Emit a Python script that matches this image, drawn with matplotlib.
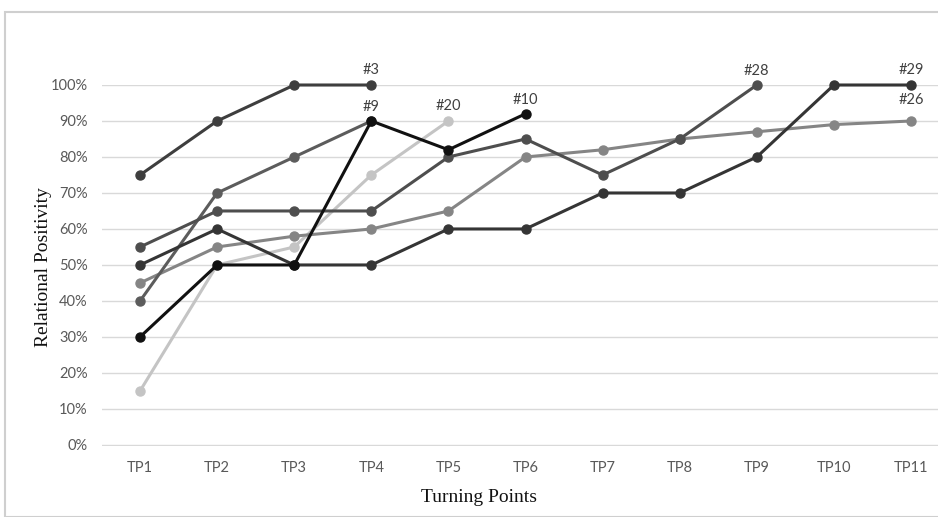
import matplotlib.pyplot as plt
from matplotlib.patches import Rectangle

plt.rcParams['font.family'] = ['Lato', 'DejaVu Sans']

tps = ['TP1', 'TP2', 'TP3', 'TP4', 'TP5', 'TP6', 'TP7', 'TP8', 'TP9', 'TP10', 'TP11']

# relational positivity per case (%)
p3 = [75, 90, 100, 100]
p9 = [40, 70, 80, 90]
p10 = [30, 50, 50, 90, 82, 92]
p20 = [15, 50, 55, 75, 90]
p26 = [45, 55, 58, 60, 65, 80, 82, 85, 87, 89, 90]
p28 = [55, 65, 65, 65, 80, 85, 75, 85, 100]
p29 = [50, 60, 50, 50, 60, 60, 70, 70, 80, 100, 100]

series = [
    ('#20', p20, '#c4c4c4', (0, 6)),
    ('#26', p26, '#858585', (0, 10)),
    ('#9', p9, '#5c5c5c', (0, 5)),
    ('#28', p28, '#4e4e4e', (0, 5)),
    ('#29', p29, '#353535', (0, 6)),
    ('#3', p3, '#3e3e3e', (0, 6)),
    ('#10', p10, '#111111', (0, 5)),
]

fig = plt.figure(figsize=(9.38, 5.17), dpi=100)
W, H = 938, 517
ax = fig.add_axes([101.5 / W, 1 - 446 / H, (938 - 101.5) / W, (446 - 85) / H])

for name, vals, col, off in series:
    x = list(range(len(vals)))
    y = [v / 100 for v in vals]
    ax.plot(x, y, color=col, lw=2.2, marker='o', ms=6.5, clip_on=False, zorder=3)
    ax.annotate(name, (x[-1], y[-1]), xytext=off, textcoords='offset points',
                ha='center', va='bottom', fontsize=10.5, color='#404040')

ax.set_xlim(-0.5, (938 - 140) / 77.1)
ax.set_ylim(-0.003, 1.0)
ax.set_yticks([i / 10 for i in range(11)])
ax.set_yticklabels([f'{i * 10}%' for i in range(11)])
ax.set_xticks(range(len(tps)))
ax.set_xticklabels(tps)
ax.tick_params(length=0, labelsize=10.5, colors='#595959', pad=11)
ax.tick_params(axis='y', pad=10)
ax.grid(axis='y', color='#d9d9d9', lw=1)
ax.set_axisbelow(True)
for s in ax.spines.values():
    s.set_visible(False)

fig.text(43 / W, 1 - 267 / H, 'Relational Positivity', family='Liberation Serif', fontsize=14,
         color='#111111', rotation=90, ha='center', va='center')
fig.text(479 / W, 1 - 497 / H, 'Turning Points', family='Liberation Serif', fontsize=14,
         color='#111111', ha='center', va='center')

fig.patches.append(Rectangle((5 / W, 0), 1, 1 - 12 / H, transform=fig.transFigure,
                             fill=False, ec='#cfcfcf', lw=1.5))

fig.savefig('out.png', dpi=100)
